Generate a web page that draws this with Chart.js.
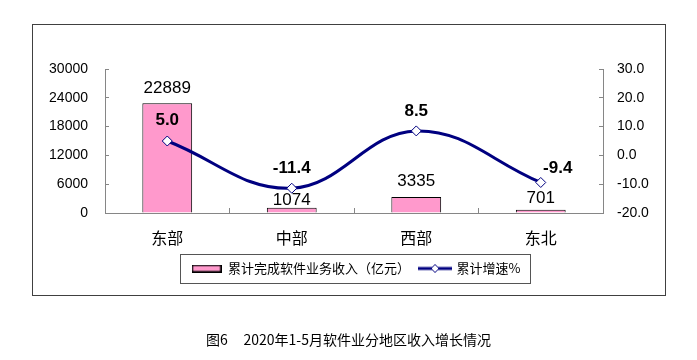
<!DOCTYPE html>
<html>
<head>
<meta charset="utf-8">
<script src="https://cdn.jsdelivr.net/npm/chart.js@4.4.1/dist/chart.umd.min.js"></script>
<style>
  html, body { margin: 0; padding: 0; background: #fff; }
  #wrap { position: relative; width: 697px; height: 360px; }
  #caption {
    position: absolute; left: 0; top: 329px; width: 697px;
    text-align: center; font: 14px "Noto Sans CJK SC"; color: #000; line-height: 20px;
  }
</style>
</head>
<body>
<div id="wrap">
  <canvas id="chart" width="697" height="360"></canvas>
  <div id="caption">图6&nbsp;&nbsp;&nbsp;&nbsp;&nbsp;2020年1-5月软件业分地区收入增长情况</div>
</div>
<script>
// 数据
const regions = ['东部', '中部', '西部', '东北'];
const revenue = [22889, 1074, 3335, 701];
const growth = [5.0, -11.4, 8.5, -9.4];
const revenueLabel = '累计完成软件业务收入（亿元）';
const growthLabel = '累计增速%';
const leftTicks = [0, 6000, 12000, 18000, 24000, 30000];
const rightTicks = [-20, -10, 0, 10, 20, 30];

const PINK = '#FF99CC';
const NAVY = '#000080';
const AXIS = '#868686';
const LATIN = 'Liberation Sans';
const CJK = 'Noto Sans CJK SC';

// 图例里的小图标
function makeSwatch() {
    const c = document.createElement('canvas');
    c.width = 30; c.height = 8;
    const x = c.getContext('2d');
    x.fillStyle = PINK;
    x.fillRect(0, 0, 30, 8);
    x.strokeStyle = '#000';
    x.lineWidth = 1.5;
    x.strokeRect(0.75, 0.75, 28.5, 6.5);
    return c;
}
function makeLineMark() {
    const c = document.createElement('canvas');
    c.width = 34; c.height = 10;
    const x = c.getContext('2d');
    x.strokeStyle = NAVY;
    x.lineWidth = 3;
    x.beginPath(); x.moveTo(0, 5); x.lineTo(34, 5); x.stroke();
    x.fillStyle = '#fff';
    x.lineWidth = 1;
    x.beginPath();
    x.moveTo(17, 1); x.lineTo(21, 5); x.lineTo(17, 9); x.lineTo(13, 5); x.closePath();
    x.fill(); x.stroke();
    return c;
}

// 数值标签 + 外框 + 图例框
const decorPlugin = {
    id: 'decor',
    afterDatasetsDraw(chart, args, opts) {
        const ctx = chart.ctx;
        ctx.save();
        ctx.fillStyle = '#000';
        ctx.textAlign = 'center';
        ctx.textBaseline = 'alphabetic';

        ctx.font = '17px "' + LATIN + '"';
        chart.getDatasetMeta(1).data.forEach((bar, i) => {
            ctx.fillText(String(revenue[i]), bar.x, bar.y - opts.barGap[i]);
        });

        ctx.font = 'bold 17px "' + LATIN + '"';
        chart.getDatasetMeta(0).data.forEach((pt, i) => {
            const off = opts.lineOff[i];
            ctx.fillText(growth[i].toFixed(1), pt.x + off[0], pt.y - off[1]);
        });
        ctx.restore();
    },
    afterDraw(chart) {
        const ctx = chart.ctx;
        ctx.save();
        ctx.strokeStyle = '#404040';
        ctx.lineWidth = 1;
        ctx.strokeRect(32.5, 24.5, 633, 271);

        const hb = chart.legend.legendHitBoxes;
        if (hb && hb.length) {
            const l = Math.min(...hb.map(b => b.left)) - 12;
            const r = Math.max(...hb.map(b => b.left + b.width)) + 9;
            const cy = hb[0].top + hb[0].height / 2;
            ctx.strokeStyle = '#555';
            ctx.strokeRect(Math.round(l) + 0.5, Math.round(cy - 14.5) + 0.5, Math.round(r - l), 29);
        }
        ctx.restore();
    }
};

const swatch = makeSwatch();
const lineMark = makeLineMark();

new Chart(document.getElementById('chart'), {
    type: 'bar',
    data: {
        labels: regions,
        datasets: [{
            type: 'line',
            label: growthLabel,
            data: growth,
            yAxisID: 'y1',
            borderColor: NAVY,
            borderWidth: 3,
            tension: 0.4,
            pointStyle: 'rectRot',
            pointRadius: 5,
            pointBackgroundColor: '#fff',
            pointBorderColor: NAVY,
            pointBorderWidth: 1,
            order: 0
        }, {
            type: 'bar',
            label: revenueLabel,
            data: revenue,
            yAxisID: 'y',
            backgroundColor: PINK,
            borderColor: '#000',
            borderWidth: 1,
            categoryPercentage: 1,
            barPercentage: 0.4,
            order: 1
        }]
    },
    options: {
        responsive: false,
        animation: false,
        devicePixelRatio: 1,
        layout: { padding: { left: 41, right: 26, top: 69, bottom: 75 } },
        plugins: {
            tooltip: { enabled: false },
            decor: {
                barGap: [10, 3, 11, 7],
                lineOff: [[0, 16], [0, 15], [0, 15], [17, 9]]
            },
            legend: {
                position: 'bottom',
                labels: {
                    usePointStyle: true,
                    pointStyleWidth: 30,
                    padding: 10,
                    color: '#000',
                    font: { family: CJK, size: 13 },
                    generateLabels: () => [
                        { text: revenueLabel, pointStyle: swatch, fillStyle: PINK, strokeStyle: '#000', lineWidth: 0, hidden: false, datasetIndex: 1 },
                        { text: growthLabel, pointStyle: lineMark, fillStyle: NAVY, strokeStyle: NAVY, lineWidth: 0, hidden: false, datasetIndex: 0 }
                    ]
                }
            }
        },
        scales: {
            x: {
                grid: { drawOnChartArea: false, offset: true, tickLength: -5, color: AXIS },
                border: { color: AXIS },
                ticks: { color: '#000', font: { family: CJK, size: 16 }, padding: 20 },
                afterFit: s => { s.height = 39; }
            },
            y: {
                position: 'left',
                min: 0,
                max: 30000,
                grid: { drawOnChartArea: false, tickLength: -4, color: AXIS },
                border: { color: AXIS },
                afterBuildTicks: s => { s.ticks = leftTicks.map(v => ({ value: v })); },
                ticks: { color: '#000', font: { family: LATIN, size: 14 }, padding: 21, callback: v => String(v) },
                afterFit: s => { s.width = 64; }
            },
            y1: {
                position: 'right',
                min: -20,
                max: 30,
                grid: { drawOnChartArea: false, tickLength: -4, color: AXIS },
                border: { color: AXIS },
                afterBuildTicks: s => { s.ticks = rightTicks.map(v => ({ value: v })); },
                ticks: { color: '#000', font: { family: LATIN, size: 14 }, padding: 18, callback: v => Number(v).toFixed(1) },
                afterFit: s => { s.width = 68; }
            }
        }
    },
    plugins: [decorPlugin]
});
</script>
</body>
</html>
